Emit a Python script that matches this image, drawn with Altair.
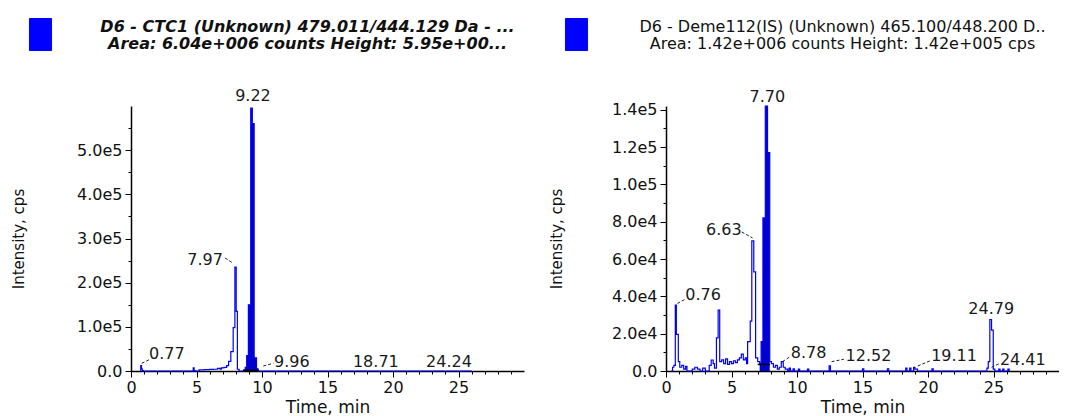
import altair as alt
import pandas as pd

FONT = "DejaVu Sans"

# ---------------- Left panel: D6 - CTC1 ----------------
ctc_time = [0.70, 0.74, 0.80, 0.86, 0.95, 4.75, 4.82, 4.90, 5.20, 5.60, 6.00, 6.30,
            6.60, 6.80, 6.90, 7.10, 7.30, 7.45, 7.62, 7.80, 7.93, 8.03, 8.12, 8.25,
            8.60, 8.72, 8.83, 8.96, 9.14, 9.26, 9.40, 9.58, 9.70, 26.0]
ctc_int = [0, 12000, 5000, 1000, 0, 7000, 1000, 0, 2500, 3000, 3500, 4000,
           6000, 4000, 7000, 8000, 12000, 22000, 44000, 98000, 235000, 135000, 4000, 0,
           2000, 8000, 35000, 150000, 595000, 560000, 30000, 5000, 0, 0]
ctc_fill = [8.60, 9.70]
ctc_base_t = [8.55, 9.75]
ctc_base_i = [1500, 1500]
ctc_lab_text = ["9.22", "7.97", "0.77", "9.96", "18.71", "24.24"]
ctc_lab_t = [9.31, 7.02, 1.37, 10.92, 18.69, 24.27]
ctc_lab_i = [622000, 251000, 38500, 21000, 21000, 21000]
ctc_lab_align = ["center", "right", "left", "left", "center", "center"]
ctc_lead_t1 = [7.18, 0.82, 10.10]
ctc_lead_i1 = [256000, 17400, 11300]
ctc_lead_t2 = [7.79, 1.45, 10.86]
ctc_lead_i2 = [244000, 26500, 17400]

# ---------------- Right panel: D6 - Deme112(IS) ----------------
dm_time = [0.40, 0.50, 0.60, 0.71, 0.79, 0.94, 1.05, 1.20, 1.35, 1.50, 1.60, 2.00, 2.20,
           2.40, 2.60, 2.80, 3.00, 3.30, 3.45, 3.60, 3.70, 3.85, 3.98, 4.10, 4.25, 4.40,
           4.55, 4.70, 4.85, 5.00, 5.15, 5.30, 5.45, 5.60, 5.75, 5.90, 6.05, 6.15, 6.23,
           6.43, 6.55, 6.70, 6.84, 7.00, 7.15, 7.26, 7.40, 7.58, 7.75, 7.92, 8.05, 8.20,
           8.35, 8.50, 8.65, 8.80, 8.95, 9.10, 9.30, 9.40, 9.50, 9.70, 9.80, 10.1, 10.2,
           10.8, 10.9, 12.45, 12.55, 15.0, 15.1, 16.9, 17.0, 18.3, 18.4, 18.6, 18.7, 18.9,
           19.0, 19.2, 20.3, 20.4, 24.50, 24.60, 24.72, 24.85, 24.98, 25.10, 25.40, 25.50,
           25.70, 25.80, 26.10, 26.20]
dm_int = [0, 2000, 3000, 35300, 19600, 5000, 2000, 3000, 1000, 2500, 0, 1000, 2000,
          1000, 0, 1500, 0, 3000, 5900, 4000, 1500, 17800, 32600, 5000, 6000, 4000,
          6500, 3500, 5000, 4000, 5500, 4500, 6000, 7000, 9000, 6000, 7000, 4000, 15700,
          26700, 69700, 53100, 7000, 5000, 4000, 15700, 82000, 142000, 117000, 5000, 4000, 2000,
          3000, 1000, 2000, 5000, 2000, 1000, 0, 1500, 0, 1200, 0, 1000, 0,
          1000, 0, 2700, 0, 1200, 0, 1200, 0, 1500, 0, 1500, 0, 2000,
          1000, 0, 1200, 0, 1500, 5000, 27600, 21900, 1000, 0, 1000, 0,
          1000, 0, 1000, 0]
dm_fill = [7.15, 7.92]
dm_base_t = [7.00, 7.95]
dm_base_i = [3500, 3500]
dm_lab_text = ["7.70", "6.63", "0.76", "8.78", "12.52", "19.11", "24.41", "24.79"]
dm_lab_t = [7.73, 5.78, 1.47, 9.53, 13.71, 20.24, 25.49, 24.83]
dm_lab_i = [147000, 75400, 40600, 9500, 8000, 8000, 5900, 33000]
dm_lab_align = ["center", "right", "left", "left", "left", "left", "left", "center"]
dm_lead_t1 = [5.78, 0.87, 8.89, 12.64, 19.22, 24.85]
dm_lead_i1 = [74500, 36200, 5000, 5000, 2700, 2000]
dm_lead_t2 = [6.61, 1.47, 9.53, 13.58, 20.17, 25.49]
dm_lead_i2 = [71300, 38500, 8000, 6300, 5500, 4100]

X_TICKS = list(range(0, 30))


def make_panel(name, time, inten, fill_rng, base_t, base_i, lab_text, lab_t, lab_i, lab_align,
               l_t1, l_i1, l_t2, l_i2, ymax, ymajor, yminor, y_title_pad, title, subtitle,
               bold, leg_x, title_dx):
    trace = pd.DataFrame({"t": time, "i": inten, "series": name})
    fill = trace[(trace.t >= fill_rng[0]) & (trace.t <= fill_rng[1])]
    base = pd.DataFrame({"t": base_t, "i": base_i})
    labs = pd.DataFrame({"txt": lab_text, "t": lab_t, "i": lab_i, "al": lab_align})
    leads = pd.DataFrame({"t": l_t1, "i": l_i1, "t2": l_t2, "i2": l_i2})

    yvals = []
    v = 0
    while v < ymax:
        yvals.append(v)
        v += yminor
    ylab = ("datum.value == 0 ? '0.0' : (datum.value % " + str(ymajor) +
            " == 0 ? replace(format(datum.value, '.1e'), 'e+', 'e') : '')")

    xs = alt.Scale(domain=[0, 30], nice=False, zero=False)
    ys = alt.Scale(domain=[0, ymax], nice=False, zero=True)
    xa = alt.Axis(title="Time, min", values=X_TICKS,
                  labelExpr="datum.value % 5 == 0 ? datum.label : ''",
                  tickSize={"condition": {"test": "datum.value % 5 == 0", "value": 6}, "value": 3},
                  labelOverlap=False, labelFlush=False, grid=False, labelPadding=2,
                  titleFontSize=17, titlePadding=4)
    ya = alt.Axis(title="Intensity, cps", values=yvals, labelExpr=ylab,
                  tickSize={"condition": {"test": "datum.value % " + str(ymajor) + " == 0",
                                          "value": 6}, "value": 3},
                  labelOverlap=False, labelFlush=False, grid=False, labelPadding=3,
                  titleFontSize=15, titlePadding=y_title_pad)

    X = alt.X("t:Q", scale=xs, axis=xa)
    Y = alt.Y("i:Q", scale=ys, axis=ya)

    area = alt.Chart(fill).mark_area(interpolate="step-after", color="#0000cc", opacity=1).encode(x=X, y=Y)
    line = alt.Chart(trace).mark_line(interpolate="step-after", strokeWidth=1.2).encode(
        x=X, y=Y,
        color=alt.Color("series:N", scale=alt.Scale(range=["#0000ff"]),
                        legend=alt.Legend(orient="none", legendX=leg_x, legendY=-88, title=None,
                                          labelExpr="''", symbolType="M-0.69,-1H0.69V1H-0.69Z",
                                          symbolSize=1024, symbolFillColor="#0000ff",
                                          symbolStrokeColor="black", symbolStrokeWidth=1,
                                          padding=0, labelOffset=0)))
    baseline = alt.Chart(base).mark_line(color="black", strokeWidth=1.5).encode(x=X, y=Y)
    rules = alt.Chart(leads).mark_rule(color="#222222", strokeWidth=1, strokeDash=[3, 2]).encode(
        x=X, y=Y, x2="t2:Q", y2="i2:Q")
    layers = [area, line, baseline, rules]
    for al in ["left", "center", "right"]:
        layers.append(alt.Chart(labs).transform_filter(alt.datum.al == al).mark_text(
            align=al, baseline="middle", font=FONT, fontSize=16, color="#1a1a1a").encode(
            x=X, y=Y, text="txt:N"))

    tp = alt.TitleParams(text=title, subtitle=subtitle, anchor="middle", font=FONT, fontSize=16,
                         fontWeight="bold" if bold else "normal",
                         fontStyle="italic" if bold else "normal",
                         subtitleFont=FONT, subtitleFontSize=16,
                         subtitleFontWeight="bold" if bold else "normal",
                         subtitleFontStyle="italic" if bold else "normal",
                         color="#111111", subtitleColor="#111111", offset=-34, dx=title_dx,
                         subtitlePadding=1)
    return alt.layer(*layers).properties(width=393, height=265, title=tp)


left = make_panel("CTC1", ctc_time, ctc_int, ctc_fill, ctc_base_t, ctc_base_i,
                  ctc_lab_text, ctc_lab_t, ctc_lab_i, ctc_lab_align,
                  ctc_lead_t1, ctc_lead_i1, ctc_lead_t2, ctc_lead_i2,
                  600000, 100000, 50000, 50,
                  "D6 - CTC1 (Unknown) 479.011/444.129 Da - ...",
                  "Area: 6.04e+006 counts  Height: 5.95e+00...", True, -107, -20)
right = make_panel("Deme112", dm_time, dm_int, dm_fill, dm_base_t, dm_base_i,
                   dm_lab_text, dm_lab_t, dm_lab_i, dm_lab_align,
                   dm_lead_t1, dm_lead_i1, dm_lead_t2, dm_lead_i2,
                   142000, 20000, 10000, 47,
                   "D6 - Deme112(IS) (Unknown) 465.100/448.200 D..",
                   "Area: 1.42e+006 counts  Height: 1.42e+005 cps", False, -106, -20)

chart = alt.hconcat(left, right, spacing=25).resolve_scale(color="independent").properties(
    padding={"left": 3, "top": 10, "right": 0, "bottom": 0}
).configure_view(stroke=None).configure_axis(
    labelFont=FONT, labelFontSize=16, labelColor="#111111", titleFont=FONT,
    titleFontWeight="normal", titleColor="#111111", domainColor="black", domainWidth=1.5,
    tickColor="black", tickWidth=1
)

chart.save("out.html", embed_options={"renderer": "svg", "actions": False})
